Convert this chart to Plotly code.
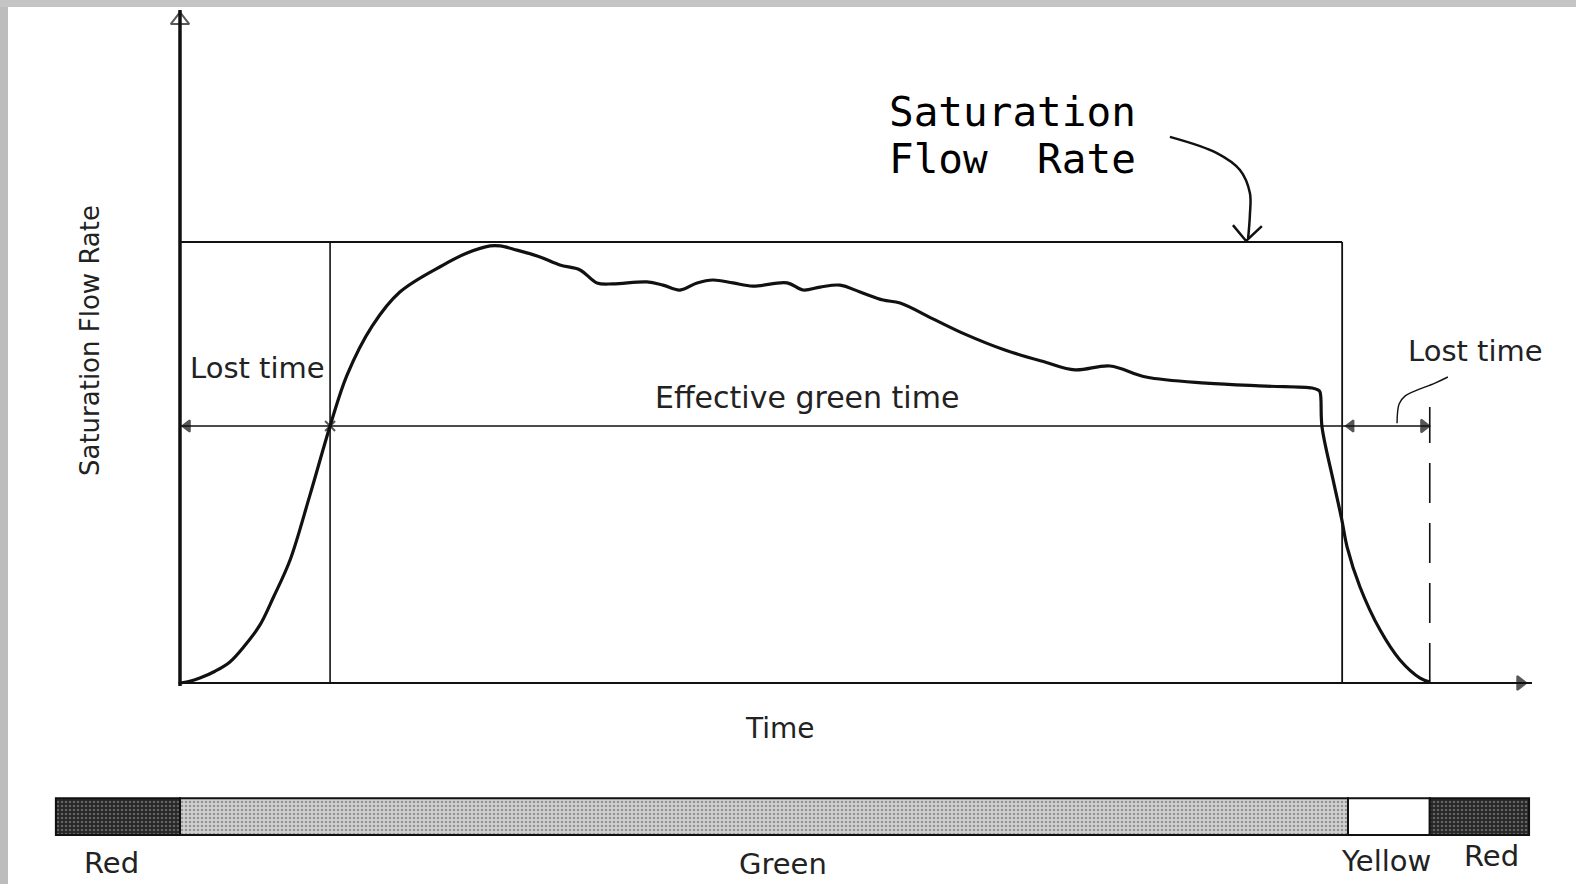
import plotly.graph_objects as go

# ---------------- data (time in s, flow in veh/h) ----------------
time_s = [0.0, 0.3, 0.68, 1.2, 1.71, 2.2, 2.74, 3.2, 3.77, 4.45, 5.14, 5.72, 6.58, 7.53,
          9.01, 9.83, 10.62, 10.96, 11.54, 12.33, 13.01, 13.70, 14.28, 14.83, 15.99,
          16.54, 17.12, 17.71, 18.25, 18.94, 19.62, 20.79, 21.34, 21.92, 22.60, 23.29,
          24.08, 24.66, 25.86, 26.88, 28.25, 29.62, 30.65, 31.85, 33.08, 35.14, 37.19,
          38.77, 38.97, 39.04, 39.11, 39.49, 39.79, 39.97, 40.41, 41.10, 41.78, 42.47, 42.81]
flow_vph = [0, 6, 20, 48, 86, 150, 237, 350, 502, 767, 1049, 1257, 1457, 1596,
            1706, 1755, 1784, 1784, 1767, 1739, 1706, 1686, 1633, 1629, 1637,
            1624, 1604, 1633, 1645, 1633, 1620, 1633, 1604, 1616, 1624, 1596,
            1563, 1551, 1482, 1424, 1359, 1310, 1278, 1294, 1249, 1224, 1212,
            1204, 1196, 1188, 1045, 829, 665, 555, 392, 216, 94, 20, 4]

SAT_FLOW = 1800          # saturation flow rate, veh/h
LOST1_END = 5.14         # end of start-up lost time, s
EFF_GREEN_END = 39.8     # end of effective green, s
LOST2_END = 42.8         # end of clearance lost time, s
EFF_LEVEL = 1049         # level of the time arrows, veh/h
AXIS_X_END = 46.3
AXIS_Y_END = 2747

phase_names = ["Red", "Green", "Yellow", "Red"]
phase_start = [-4.25, 0.0, 40.0, 42.8]
phase_end = [0.0, 40.0, 42.8, 46.2]

# hand-drawn pointer arrow and leader (data coordinates)
pointer_t = [33.9, 35.51, 36.3, 36.64, 36.64, 36.58]
pointer_q = [2229, 2163, 2094, 2000, 1910, 1816]
pointer_head_t = [36.06, 36.51, 37.05]
pointer_head_q = [1869, 1804, 1865]
leader_t = [43.42, 42.98, 41.95, 41.75, 41.68]
leader_q = [1249, 1224, 1171, 1139, 1060]

# ---------------- figure ----------------
INK = "#111111"
TXT = "#222222"
FONT = "DejaVu Sans"
fig = go.Figure()

def line(x, y, w=2, color=INK, dash=None, shape="linear"):
    fig.add_trace(go.Scatter(x=x, y=y, mode="lines", hoverinfo="skip", showlegend=False,
                             line=dict(color=color, width=w, dash=dash, shape=shape)))

# axes drawn as arrows
line([0, 0], [-12, AXIS_Y_END], w=3.5)
line([-0.05, AXIS_X_END], [0, 0], w=2)
# saturation flow line and effective green boundaries
line([0, EFF_GREEN_END], [SAT_FLOW, SAT_FLOW], w=2)
line([LOST1_END, LOST1_END], [0, SAT_FLOW], w=1.6)
line([EFF_GREEN_END, EFF_GREEN_END], [0, SAT_FLOW], w=1.8)
# time arrow line
line([0, LOST2_END], [EFF_LEVEL, EFF_LEVEL], w=1.6)
# dashed end of lost time
line([LOST2_END, LOST2_END], [0, 1127], w=1.6, dash="40px,20px")
# flow profile
line(time_s, flow_vph, w=3.2, shape="spline")
# pointers
line(pointer_t, pointer_q, w=2.5, shape="spline")
line(pointer_head_t, pointer_head_q, w=2.5)
line(leader_t, leader_q, w=1.4, shape="spline")

# arrowheads
fig.add_trace(go.Scatter(
    x=[0, 0.25, LOST1_END, EFF_GREEN_END + 0.3, LOST2_END - 0.2, AXIS_X_END - 0.4],
    y=[2706, EFF_LEVEL, EFF_LEVEL, EFF_LEVEL, EFF_LEVEL, 0],
    mode="markers", hoverinfo="skip", showlegend=False,
    marker=dict(symbol=["triangle-up-open", "triangle-left", "x-thin-open", "triangle-left",
                        "triangle-right", "triangle-right"],
                size=[16, 10, 10, 10, 11, 12], color=INK, line=dict(color=INK, width=2))))

# signal bar
bar_style = {
    "Red": dict(color="#3a3a3a", pattern=dict(shape=".", fgcolor="#a0a0a0", bgcolor="#262626",
                                              size=4, solidity=0.35)),
    "Green": dict(color="#bdbdbd", pattern=dict(shape=".", fgcolor="#555555", bgcolor="#d0d0d0",
                                                size=4, solidity=0.35)),
    "Yellow": dict(color="#ffffff"),
}
for name, s, e in zip(phase_names, phase_start, phase_end):
    st = bar_style[name]
    fig.add_trace(go.Bar(
        x=[e - s], base=[s], y=[-545], width=[150], orientation="h",
        hoverinfo="skip", showlegend=False,
        marker=dict(color=st["color"], pattern=st.get("pattern"),
                    line=dict(color=INK, width=2))))

ann = []
def text(x, y, s, size, angle=0, family=FONT, xanchor="center", color=TXT):
    ann.append(dict(x=x, y=y, text=s, showarrow=False, textangle=angle, xanchor=xanchor,
                    yanchor="middle", font=dict(family=family, size=size, color=color)))

text(-3.08, 1396, "Saturation Flow Rate", 26, angle=-90)
text(20.55, -184, "Time", 28)
text(2.64, 1286, "Lost time", 29)
text(21.47, 1167, "Effective green time", 30)
text(44.35, 1355, "Lost time", 29)
text(24.21, 2332, "Saturation", 41, family="DejaVu Sans Mono", xanchor="left", color="#000")
text(24.21, 2140, "Flow  Rate", 41, family="DejaVu Sans Mono", xanchor="left", color="#000")
text(-2.36, -735, "Red", 29)
text(20.65, -740, "Green", 29)
text(41.3, -725, "Yellow", 29)
text(44.9, -707, "Red", 29)

fig.update_layout(
    width=1576, height=884, margin=dict(l=0, r=0, t=0, b=0, pad=0),
    paper_bgcolor="white", plot_bgcolor="white", barmode="overlay",
    xaxis=dict(range=[-6.164, 47.808], visible=False, fixedrange=True),
    yaxis=dict(range=[-820.4, 2787.8], visible=False, fixedrange=True),
    annotations=ann,
    shapes=[
        dict(type="rect", xref="paper", yref="paper", x0=0, x1=8 / 1576, y0=0, y1=1,
             fillcolor="#bdbdbd", line=dict(width=0), layer="above"),
        dict(type="rect", xref="paper", yref="paper", x0=0, x1=1, y0=1 - 7 / 884, y1=1,
             fillcolor="#c4c4c4", line=dict(width=0), layer="above"),
    ],
)

fig.write_html("out.html", config={"displayModeBar": False},
               post_script="document.body.style.margin='0';document.body.style.overflow='hidden';")
